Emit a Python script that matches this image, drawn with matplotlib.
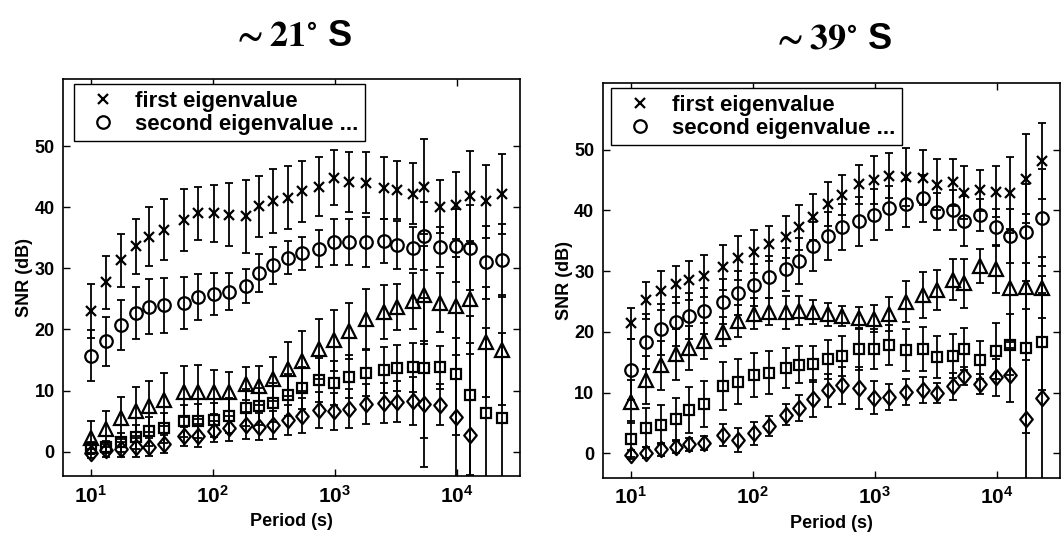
import numpy as np
import matplotlib
matplotlib.use("Agg")
import matplotlib.pyplot as plt
from matplotlib.lines import Line2D
from matplotlib.path import Path

plt.rcParams['font.family'] = ['Liberation Sans', 'DejaVu Sans']
plt.rcParams['font.weight'] = 'bold'
plt.rcParams['mathtext.fontset'] = 'custom'
plt.rcParams['mathtext.rm'] = 'Liberation Sans:bold'
plt.rcParams['mathtext.bf'] = 'Liberation Sans:bold'
plt.rcParams['mathtext.it'] = 'Liberation Sans:bold'

# ---------------- data ----------------
periods = [10, 13.3, 17.6, 23.5, 30, 39.8, 57.5, 75.8, 102, 136, 186, 240, 312,
           414, 543, 743, 986, 1310, 1820, 2515, 3265, 4385, 5400, 7260, 9950,
           12950, 17500, 23650]

titles = [r'$\sim\mathbf{21^{\circ}}$ S', r'$\sim\mathbf{39^{\circ}}$ S']
legend_labels = ['first eigenvalue', 'second eigenvalue ...']
xtick_vals = [10, 100, 1000, 10000]
xtick_labels = [r'$\mathbf{10^{1}}$', r'$\mathbf{10^{2}}$', r'$\mathbf{10^{3}}$', r'$\mathbf{10^{4}}$']
ytick_vals = [0, 10, 20, 30, 40, 50]

nan = np.nan
# left panel (~21 S)
L_first = [23.0, 27.7, 31.3, 33.6, 35.2, 36.3, 37.9, 39.0, 39.0, 38.8, 38.5, 40.2, 41.0,
           41.6, 42.6, 43.4, 44.8, 44.1, 44.0, 43.2, 42.8, 42.2, 43.4, 40.1, 40.3, 41.8, 41.0, 42.2]
L_first_err = [4.4, 4.4, 4.4, 4.5, 4.8, 5.0, 5.1, 4.4, 4.7, 5.2, 6.0, 5.0, 5.2,
               5.1, 5.0, 4.8, 4.5, 4.9, 5.0, 5.1, 4.8, 5.0, 7.7, 4.3, 5.5, 7.4, 6.0, 6.6]
L_second = [15.7, 18.1, 20.8, 22.7, 23.7, 24.0, 24.3, 25.3, 25.8, 26.2, 27.1, 29.2, 30.5,
            31.7, 32.5, 33.2, 34.3, 34.3, 34.3, 34.4, 33.8, 33.3, 35.3, 33.5, 33.7, 33.4, 31.0, 31.3]
L_second_err = [4.2, 4.0, 4.1, 4.3, 4.5, 4.5, 4.3, 3.8, 3.4, 3.0, 2.8, 3.1, 3.0,
                2.7, 2.7, 3.0, 3.7, 3.7, 4.1, 3.6, 3.9, 3.4, 5.6, 3.2, 6.0, 7.0, 6.0, 6.0]
L_third = [2.3, 3.7, 5.5, 6.6, 7.4, 8.5, 9.8, 9.8, 9.8, 9.8, 11.1, 10.8, 11.9,
           13.5, 14.9, 16.8, 18.2, 19.8, 21.7, 22.9, 23.7, 24.6, 25.7, 24.4, 23.8, 25.0, 18.0, 16.6]
L_third_err = [2.7, 3.0, 3.5, 4.0, 4.2, 4.3, 4.2, 4.4, 3.6, 3.2, 2.7, 3.2, 3.6,
               4.4, 4.9, 4.9, 5.0, 4.6, 4.9, 4.4, 3.8, 4.6, 8.0, 4.8, 8.0, 9.0, 9.0, 9.0]
L_fourth = [0.55, 0.8, 1.5, 2.4, 3.3, 3.9, 5.0, 5.0, 5.2, 5.9, 7.2, 7.4, 8.0,
            9.3, 10.4, 11.8, 11.3, 12.3, 12.85, 13.4, 13.7, 13.8, 13.7, 13.8, 12.7, 9.2, 6.3, 5.5]
L_fourth_err = [1.0, 1.0, 1.5, 2.0, 2.3, 2.5, 2.6, 2.8, 2.8, 2.8, 3.0, 3.0, 3.2,
                3.4, 3.5, 3.6, 3.6, 3.6, 3.8, 3.8, 3.8, 4.0, 11.5, 3.5, 10.0, 13.0, 14.0, 14.0]
L_fifth = [-0.3, 0.2, 0.4, 0.7, 0.8, 1.3, 2.5, 2.6, 3.3, 3.8, 4.3, 4.1, 4.4,
           5.2, 5.9, 6.8, 6.6, 7.0, 7.8, 8.0, 8.2, 8.3, 7.8, 7.7, 5.6, 2.8, nan, nan]
L_fifth_err = [0.8, 1.0, 1.2, 1.5, 1.5, 1.5, 1.5, 1.9, 1.7, 2.0, 2.2, 2.2, 2.3,
               2.5, 2.8, 3.0, 3.0, 3.2, 3.2, 3.3, 3.4, 3.9, 10.3, 3.3, 13.0, 15.0, nan, nan]

# right panel (~39 S)
R_first = [21.4, 25.2, 26.8, 27.8, 28.5, 29.2, 30.6, 32.1, 33.2, 34.5, 35.6, 37.2, 38.9,
           41.1, 42.6, 44.3, 45.0, 45.7, 45.5, 45.4, 44.2, 44.6, 42.9, 43.3, 43.1, 42.9, 45.2, 48.1]
R_first_err = [2.6, 3.0, 3.2, 3.0, 3.2, 3.4, 3.7, 3.6, 3.5, 2.9, 3.4, 3.7, 3.8,
               3.6, 3.3, 3.2, 3.9, 3.7, 4.7, 4.5, 4.2, 3.8, 4.4, 3.4, 4.2, 5.9, 7.3, 6.3]
R_second = [13.8, 18.4, 20.4, 21.7, 22.6, 23.5, 25.0, 26.4, 27.7, 29.0, 30.3, 31.7, 34.1,
            35.8, 37.3, 38.2, 39.3, 40.4, 41.1, 42.0, 39.8, 40.1, 38.3, 39.2, 37.3, 35.8, 36.4, 38.8]
R_second_err = [5.0, 4.5, 4.2, 4.0, 3.8, 3.8, 3.7, 3.6, 3.5, 3.5, 3.5, 3.8, 4.0,
                4.0, 3.8, 4.0, 4.2, 3.6, 3.9, 3.9, 3.1, 3.3, 4.1, 2.6, 3.0, 4.5, 8.0, 8.0]
R_third = [8.5, 12.1, 14.5, 16.3, 17.3, 18.5, 20.0, 21.8, 23.0, 23.3, 23.2, 23.5, 23.25,
           22.9, 22.6, 22.3, 22.2, 22.9, 25.0, 26.1, 26.9, 28.6, 28.0, 30.8, 30.3, 27.3, 27.4, 27.3]
R_third_err = [3.5, 4.0, 4.0, 4.2, 3.6, 3.0, 2.4, 2.7, 2.5, 2.2, 2.7, 2.4, 2.0,
               1.9, 1.6, 1.8, 2.3, 2.8, 3.4, 3.8, 3.3, 3.4, 4.0, 2.8, 3.9, 9.0, 12.0, 5.0]
R_fourth = [2.35, 4.2, 4.75, 5.7, 7.2, 8.1, 11.1, 11.8, 12.9, 13.3, 14.1, 14.6, 14.7,
            15.5, 16.0, 17.2, 17.2, 17.8, 17.0, 17.2, 15.9, 16.0, 17.2, 15.4, 16.8, 17.9, 17.4, 18.4]
R_fourth_err = [3.0, 3.2, 3.2, 3.5, 3.8, 3.8, 4.0, 3.7, 3.6, 3.5, 3.3, 3.0, 3.0,
                3.2, 3.3, 3.5, 3.3, 3.3, 3.5, 3.6, 3.5, 3.6, 3.4, 3.1, 4.6, 5.0, 14.0, 8.0]
R_fifth = [-0.2, 0.1, 0.65, 1.0, 1.5, 1.7, 3.1, 2.2, 3.3, 4.5, 6.4, 7.5, 9.0,
           10.4, 11.2, 10.8, 9.2, 9.3, 10.1, 10.4, 9.95, 11.05, 12.7, 11.4, 12.5, 12.9, 5.7, 9.2]
R_fifth_err = [0.8, 0.9, 1.0, 1.0, 1.1, 1.2, 1.8, 1.9, 1.9, 1.6, 1.7, 2.1, 3.0,
               2.7, 3.1, 3.5, 2.7, 2.1, 2.2, 2.1, 1.7, 2.2, 1.5, 1.7, 3.1, 4.4, 18.0, 20.0]

# ---------------- styling ----------------
diamond = Path([(0, 1), (0.82, 0), (0, -1), (-0.82, 0), (0, 1)],
               [Path.MOVETO, Path.LINETO, Path.LINETO, Path.LINETO, Path.CLOSEPOLY])
markers = [('x', 7.0), ('o', 9.0), ('^', 10.5), ('s', 7.0), (diamond, 11.0)]

fig = plt.figure(figsize=(10.64, 5.41), dpi=100)
ax_pos = [[0.0592, 0.120, 0.4295, 0.734], [0.5664, 0.117, 0.4298, 0.730]]
legend_anchor = [(0.024, 0.987), (0.019, 0.986)]

panels = [
    [(L_first, L_first_err), (L_second, L_second_err), (L_third, L_third_err),
     (L_fourth, L_fourth_err), (L_fifth, L_fifth_err)],
    [(R_first, R_first_err), (R_second, R_second_err), (R_third, R_third_err),
     (R_fourth, R_fourth_err), (R_fifth, R_fifth_err)],
]

for p, series in enumerate(panels):
    ax = fig.add_axes(ax_pos[p])
    for (vals, errs), (mk, ms) in zip(series, markers):
        ax.errorbar(periods, vals, yerr=errs, fmt='none', ecolor='k',
                    elinewidth=1.3, capsize=2.6, capthick=1.3)
        ax.plot(periods, vals, ls='none', marker=mk, ms=ms, mfc='none',
                mec='k', mew=1.6)
    ax.set_xscale('log')
    ax.set_xlim(10 ** 0.77, 10 ** 4.52)
    ax.set_ylim(-4, 61)
    ax.set_xticks(xtick_vals)
    ax.set_xticklabels(xtick_labels)
    ax.xaxis.set_minor_locator(matplotlib.ticker.NullLocator())
    ax.set_yticks(ytick_vals)
    ax.tick_params(direction='in', top=True, right=True, length=5, width=1.0,
                   pad=6)
    ax.tick_params(axis='y', labelsize=13)
    ax.tick_params(axis='x', labelsize=15)
    for lab in ax.get_yticklabels():
        lab.set_fontweight('bold')
    for s in ax.spines.values():
        s.set_linewidth(1.2)
    ax.set_xlabel('Period (s)', fontsize=13, fontweight='bold', labelpad=5)
    ax.set_ylabel('SNR (dB)', fontsize=13, fontweight='bold', labelpad=1)
    ax.set_title(titles[p], fontsize=26, fontweight='bold', pad=24,
                 math_fontfamily='stix')
    handles = [Line2D([], [], ls='none', marker=markers[i][0], ms=markers[i][1],
                      mfc='none', mec='k', mew=1.6) for i in range(2)]
    leg = ax.legend(handles, legend_labels, loc='upper left',
                    bbox_to_anchor=legend_anchor[p], borderaxespad=0,
                    prop={'weight': 'bold', 'size': 16}, fancybox=False,
                    edgecolor='k', framealpha=1, handlelength=2.0,
                    handletextpad=0.45, labelspacing=0.08, borderpad=0.3)
    leg.get_frame().set_linewidth(1.0)

fig.savefig('out.png', dpi=100)
